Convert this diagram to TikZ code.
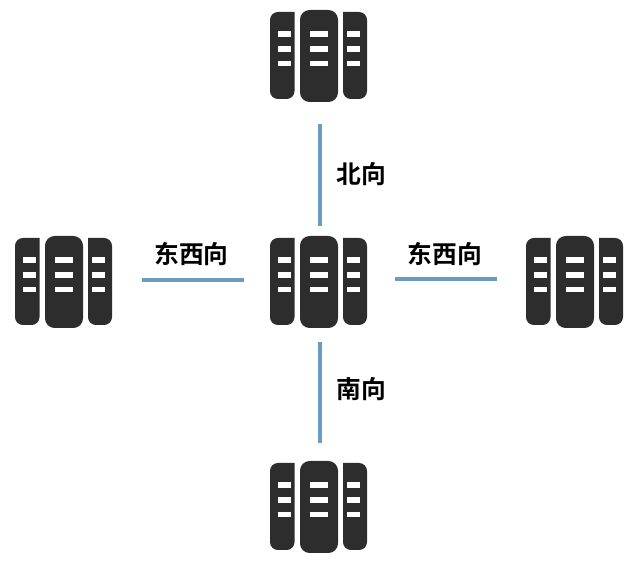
\documentclass[tikz,border=0pt]{standalone}
\usepackage{fontspec}
\newfontfamily\cjk{Noto Sans CJK SC Bold}
\definecolor{rackdark}{HTML}{2D2D2D}
\definecolor{linkblue}{HTML}{6A9BC3}
\tikzset{
	x=0.02cm, y=-0.02cm,
	rack/.style={fill=rackdark, draw=none},
	slot/.style={fill=white, draw=none},
	link/.style={draw=linkblue, line width=2.1pt},
	tag/.style={font=\cjk\fontsize{14.1pt}{16pt}\selectfont, text=black, inner sep=0pt},
	box/.style={minimum width=1.94cm, minimum height=1.84cm, inner sep=0pt, outer sep=0pt},
	pics/server/.style={code={
		\fill[rack, rounded corners=4.5pt] (-24,-44) -- (-48.5,-44) -- (-48.5,43) -- (-24,43) [sharp corners] -- cycle;
		\fill[rack, rounded corners=5.5pt] (-18.5,-46) rectangle (19.5,46);
		\fill[rack, rounded corners=4.5pt] (24.5,-44) -- (48.5,-44) -- (48.5,43) -- (24.5,43) [sharp corners] -- cycle;
		\foreach \y in {-24.7,-9.7,4.7} {
			\fill[slot] (-40.5,\y) rectangle (-28,\y+5.4);
			\fill[slot] (-8.5,\y) rectangle (9.5,\y+5.4);
			\fill[slot] (28.5,\y) rectangle (41,\y+5.4);
		}
	}}
}
\begin{document}
\begin{tikzpicture}
	\useasboundingbox (0,0) rectangle (640,563);
	% servers
	\foreach \name/\px/\py in {hub/318.5/282, north/318.5/56, south/318.5/507, west/63.5/282, east/574.5/282} {
		\node[box] (\name) at (\px,\py) {};
		\pic at (\name) {server};
	}
	% links
	\draw[link, shorten <=0.44cm, shorten >=0.2cm] ([xshift=0.03cm]north.south) -- ([xshift=0.03cm]hub.north);
	\draw[link, shorten <=0.6cm, shorten >=0.52cm] ([yshift=0.04cm]west.east) -- ([yshift=0.04cm]hub.west);
	\draw[link, shorten <=0.56cm, shorten >=0.58cm] ([yshift=0.06cm]hub.east) -- ([yshift=0.06cm]east.west);
	\draw[link, shorten <=0.28cm, shorten >=0.36cm] ([xshift=0.03cm]hub.south) -- ([xshift=0.03cm]south.north);
	% labels
	\node[tag] (northtag) at (361,174.5) {北向};
	\node[tag] (southtag) at (361,389.5) {南向};
	\node[tag] (westtag) at (191.5,253.5) {东西向};
	\node[tag] (easttag) at (445,253.5) {东西向};
\end{tikzpicture}
\end{document}
